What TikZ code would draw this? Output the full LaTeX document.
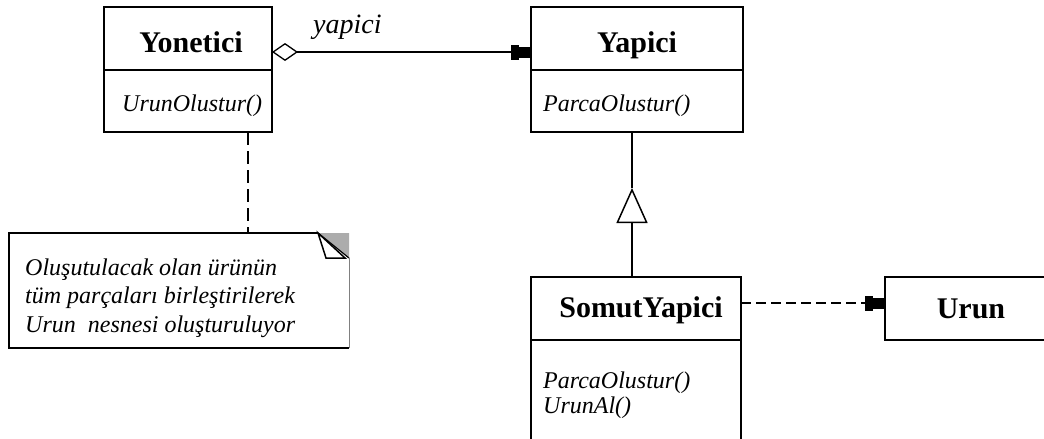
\documentclass[tikz,border=0pt]{standalone}
\usepackage{fontspec}
\setmainfont{Liberation Serif}
\usetikzlibrary{arrows.meta,calc}
\begin{document}
\begin{tikzpicture}[x=1pt,y=-1pt,
  classbox/.style={draw=black, line width=2pt, rectangle, inner sep=0pt, outer sep=0pt, anchor=north west},
  classname/.style={font=\fontsize{30}{30}\selectfont\bfseries, anchor=base, inner sep=0pt},
  method/.style={font=\fontsize{24}{24}\selectfont\itshape, anchor=base west, inner sep=0pt},
  rolename/.style={font=\fontsize{28}{28}\selectfont\itshape, anchor=base west, inner sep=0pt},
  notetext/.style={font=\fontsize{24}{28.5}\selectfont\itshape, align=left, anchor=west, inner sep=0pt},
  divider/.style={line width=1.4pt},
  filledhead/.style={-{Rectangle[length=8pt,width=15pt,sep=0pt]Rectangle[length=12pt,width=11pt]}},
  assoc/.style={line width=2.2pt,
    {Diamond[fill=white,length=26pt,width=18pt,line width=1.3pt]}-{Rectangle[length=8pt,width=15pt,sep=0pt]Rectangle[length=12pt,width=11pt]}},
  inherit/.style={line width=1.2pt, -{Triangle[open,length=35pt,width=31pt,line width=1.5pt]}},
  plainlink/.style={line width=1.2pt},
  dep/.style={line width=2.2pt, dash pattern=on 10pt off 5pt, filledhead},
  notelink/.style={line width=2pt, dash pattern=on 13pt off 6pt},
]
\useasboundingbox[fill=white] (0,0) rectangle (1044,439);

\begin{scope}
\clip (0,0) rectangle (1044,439);

% class boxes
\node[classbox, minimum width=168pt, minimum height=125pt] (yon) at (104,7) {};
\node[classbox, minimum width=212pt, minimum height=125pt] (yap) at (531,7) {};
\node[classbox, minimum width=210pt, minimum height=200pt] (som) at (531,277) {};
\node[classbox, minimum width=200pt, minimum height=63pt] (urun) at (885,277) {};

% compartment dividers
\coordinate (divA) at (0,70);
\coordinate (divB) at (0,340);
\draw[divider] (yon.west |- divA) -- (yon.east |- divA);
\draw[divider] (yap.west |- divA) -- (yap.east |- divA);
\draw[divider] (som.west |- divB) -- (som.east |- divB);

% class names
\node[classname] (yonT) at (191,52) {Yonetici};
\node[classname] (yapT) at (637,52) {Yapici};
\node[classname] (somT) at (641,317) {SomutYapici};
\node[classname] (urunT) at (971,318) {Urun};

% operations
\node[method] (yonM) at (122,111) {UrunOlustur()};
\node[method] (yapM) at (543,111) {ParcaOlustur()};
\node[method] (somM1) at (543,388) {ParcaOlustur()};
\node[method] (somM2) at (543,413) {UrunAl()};

% aggregation Yonetici -> Yapici
\coordinate (aggY) at (0,52);
\draw[assoc] (yon.east |- aggY) -- (yap.west |- aggY);
\node[rolename] (role) at (313,33) {yapici};

% generalization SomutYapici -> Yapici
\coordinate (apex) at (632,188);
\draw[plainlink] (apex) -- (apex |- yap.south);
\draw[inherit] (apex |- som.north) -- (apex);

% dependency SomutYapici -> Urun
\coordinate (depY) at (0,303);
\draw[dep] (som.east |- depY) -- (urun.west |- depY);

% note with folded corner
\node[rectangle, inner sep=0pt, outer sep=0pt, anchor=north west,
      minimum width=340pt, minimum height=115pt] (note) at (9,233) {};
\fill[gray!65] ($(note.north east)+(-31,0)$) -- (note.north east) -- ($(note.north east)+(0,25)$) -- cycle;
\draw[line width=1.5pt, fill=white] ($(note.north east)+(-31,0)$) -- ($(note.north east)+(-23,25)$) -- ($(note.north east)+(-4,25)$) -- cycle;
\draw[line width=1.2pt, draw=black] ($(note.north east)+(-31,0)$) -- ($(note.north east)+(0,25)$);
\draw[line width=1pt, draw=gray] ($(note.north east)+(0,25)$) -- (note.south east);
\draw[line width=2pt] ($(note.north east)+(-31,0)$) -- (note.north west) -- (note.south west) -- (note.south east);
\node[notetext] (noteT) at (25,298) {Oluşutulacak olan ürünün\\tüm parçaları birleştirilerek\\Urun\ \ nesnesi oluşturuluyor};

% note attachment
\coordinate (nl) at (248,0);
\draw[notelink] (yon.south -| nl) -- (note.north -| nl);
\end{scope}
\end{tikzpicture}
\end{document}
